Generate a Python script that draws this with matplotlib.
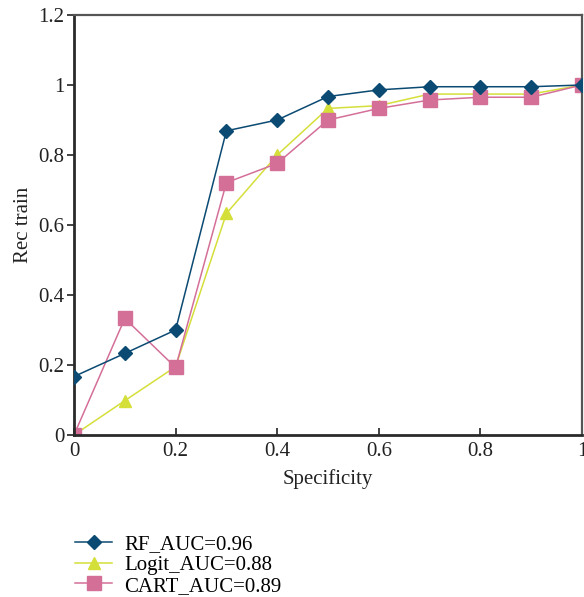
import matplotlib
matplotlib.use("Agg")
import matplotlib.pyplot as plt

plt.rcParams['font.family'] = ['Liberation Serif', 'DejaVu Serif']

x = [0, 0.1, 0.2, 0.3, 0.4, 0.5, 0.6, 0.7, 0.8, 0.9, 1.0]
rf = [0.167, 0.233, 0.300, 0.869, 0.900, 0.967, 0.986, 0.995, 0.995, 0.995, 1.0]
logit = [0.0, 0.098, 0.195, 0.633, 0.800, 0.933, 0.941, 0.974, 0.974, 0.974, 1.0]
cart = [0.0, 0.333, 0.193, 0.721, 0.776, 0.900, 0.933, 0.957, 0.965, 0.965, 1.0]
labels = ["RF_AUC=0.96", "Logit_AUC=0.88", "CART_AUC=0.89"]

fig = plt.figure(figsize=(5.84, 5.97), dpi=100)
ax = fig.add_axes([0.1267, 0.2714, 0.8699, 0.7035])

ax.plot(x, rf, color='#0b4a72', lw=1.1, marker='D', ms=7, label=labels[0], zorder=3)
ax.plot(x, logit, color='#d5df3a', lw=1.1, marker='^', ms=9, label=labels[1], zorder=2)
ax.plot(x, cart, color='#d46f98', lw=1.1, marker='s', ms=9.5, label=labels[2], zorder=2.5)

ax.set_xlim(0, 1)
ax.set_ylim(0, 1.2)
ax.set_xticks([0, 0.2, 0.4, 0.6, 0.8, 1])
ax.set_xticklabels(['0', '0.2', '0.4', '0.6', '0.8', '1'])
ax.set_yticks([0, 0.2, 0.4, 0.6, 0.8, 1, 1.2])
ax.set_yticklabels(['0', '0.2', '0.4', '0.6', '0.8', '1', '1.2'])
ax.tick_params(axis='x', direction='in', length=5, width=1.2, labelsize=15, colors='#222222', pad=5)
ax.tick_params(axis='y', direction='out', length=5, width=1.2, labelsize=15, colors='#222222', pad=2)
for s in ['left', 'bottom']:
    ax.spines[s].set_linewidth(2)
    ax.spines[s].set_color('#2a2a2a')
for s in ['top', 'right']:
    ax.spines[s].set_linewidth(1.6)
    ax.spines[s].set_color('#555555')

ax.set_xlabel('Specificity', fontsize=15, color='#222222', labelpad=6)
ax.set_ylabel('Rec train', fontsize=15, color='#222222', labelpad=4)

fig.legend(loc='upper left', bbox_to_anchor=(0.115, 0.118), frameon=False,
           fontsize=15, handlelength=1.75, handletextpad=0.6, labelspacing=0.05,
           borderaxespad=0)

fig.savefig('out.png', dpi=100)
